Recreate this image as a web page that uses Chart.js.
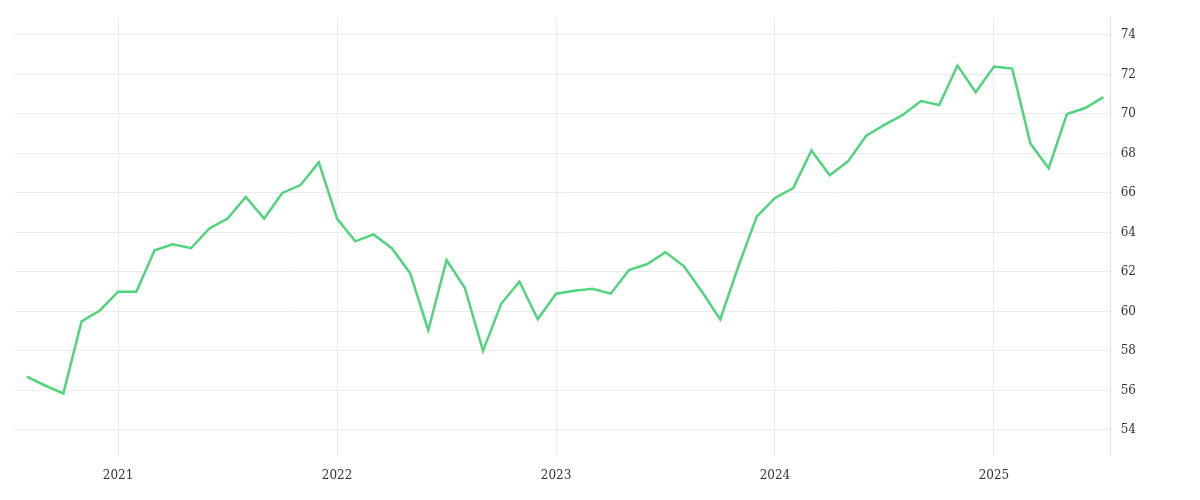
<!DOCTYPE html>
<html>
<head>
<meta charset="utf-8">
<script src="https://cdn.jsdelivr.net/npm/chart.js@4.4.1/dist/chart.umd.min.js"></script>
<style>
  html, body { margin: 0; background: #fff; }
  #wrap { width: 1200px; height: 500px; }
</style>
</head>
<body>
<div id="wrap"><canvas id="chart"></canvas></div>
<script>
// monthly values, Aug 2020 .. Jul 2025
const values = [
    56.7, 56.25, 55.85, 59.5, 60.05, 61.0, 61.0, 63.1, 63.4, 63.2,
    64.2, 64.7, 65.8, 64.7, 66.0, 66.4, 67.55, 64.7, 63.55, 63.9,
    63.2, 61.95, 59.05, 62.6, 61.2, 58.0, 60.4, 61.5, 59.6, 60.9,
    61.05, 61.15, 60.9, 62.1, 62.4, 63.0, 62.3, 61.0, 59.6, 62.3,
    64.8, 65.75, 66.25, 68.15, 66.9, 67.6, 68.9, 69.45, 69.95, 70.65,
    70.45, 72.45, 71.1, 72.4, 72.3, 68.5, 67.25, 70.0, 70.3, 70.85
];
// index of January in each year
const yearIndex = [5, 17, 29, 41, 53];
const yearLabels = ['2021', '2022', '2023', '2024', '2025'];
const yTicks = [54, 56, 58, 60, 62, 64, 66, 68, 70, 72, 74];

const points = values.map((v, i) => ({ x: i, y: v }));
const font = { family: 'DejaVu Serif', size: 12 };

new Chart(document.getElementById('chart'), {
    type: 'line',
    data: {
        datasets: [{
            data: points,
            borderColor: '#50d47e',
            borderWidth: 2.5,
            pointRadius: 0,
            tension: 0,
            fill: false
        }]
    },
    options: {
        responsive: true,
        maintainAspectRatio: false,
        animation: false,
        layout: { padding: { left: 15, right: 54, top: 7, bottom: 4 } },
        plugins: { legend: { display: false }, tooltip: { enabled: false } },
        scales: {
            x: {
                type: 'linear',
                min: -0.65,
                max: 59.4,
                afterBuildTicks: axis => { axis.ticks = yearIndex.map(v => ({ value: v })); },
                ticks: {
                    color: '#333',
                    font: font,
                    maxRotation: 0,
                    padding: 13,
                    callback: v => yearLabels[yearIndex.indexOf(v)]
                },
                grid: { color: '#ececec', drawTicks: false, tickLength: 0 },
                border: { display: false }
            },
            y: {
                position: 'right',
                min: 52.7,
                max: 74.9,
                afterBuildTicks: axis => { axis.ticks = yTicks.map(v => ({ value: v })); },
                ticks: { color: '#333', font: font, padding: 10 },
                grid: { color: '#ececec', drawTicks: false },
                border: { display: true, color: '#dddddd' }
            }
        }
    }
});
</script>
</body>
</html>
